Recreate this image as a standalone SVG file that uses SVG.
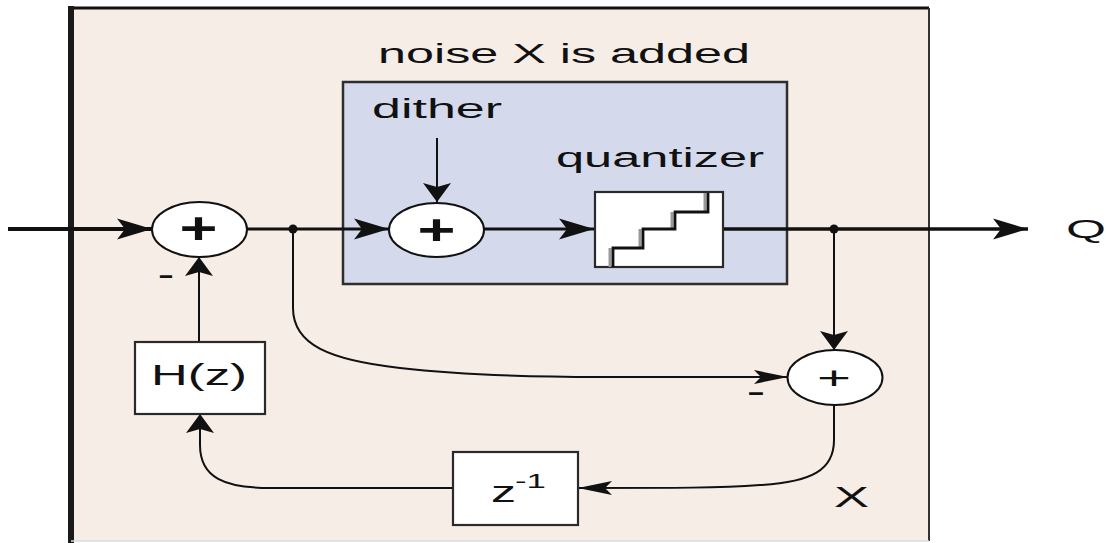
<svg xmlns="http://www.w3.org/2000/svg" width="1106" height="543" viewBox="0 0 1106 543">
<style>
  .t { font-family: "Liberation Sans", Arial, sans-serif; fill: #111; }
  .thick { stroke: #111; stroke-width: 3; fill: none; }
  .thin { stroke: #111; stroke-width: 2; fill: none; }
  .sum { fill: #fff; stroke: #111; stroke-width: 2; }
  .blk { fill: #fff; stroke: #2a2a2a; stroke-width: 2.2; }
</style>
<defs>
  <marker id="ah" viewBox="-38 -12 40 24" refX="0" refY="0" markerWidth="40" markerHeight="24" markerUnits="userSpaceOnUse" orient="auto">
    <path d="M0,0 L-35,-10.5 L-27,0 L-35,10.5 Z" fill="#111"/>
  </marker>
  <marker id="ahThin" viewBox="-36 -9 38 18" refX="0" refY="0" markerWidth="38" markerHeight="18" markerUnits="userSpaceOnUse" orient="auto">
    <path d="M0,0 L-34,-7 L-27,0 L-34,7 Z" fill="#111"/>
  </marker>
  <marker id="av" viewBox="-21 -15 23 30" refX="0" refY="0" markerWidth="23" markerHeight="30" markerUnits="userSpaceOnUse" orient="auto">
    <path d="M0,0 L-19,-14 L-15,0 L-19,14 Z" fill="#111"/>
  </marker>
</defs>

<g id="frame">
  <rect x="71" y="8" width="858" height="533" fill="#F6EDE7"/>
  <path d="M68,8 H929" stroke="#111" stroke-width="3"/>
  <path d="M71,6 V543" stroke="#1a1a1a" stroke-width="6"/>
  <path d="M929,8 V541" stroke="#333" stroke-width="2"/>
  <path d="M71,541 H929" stroke="#ddd" stroke-width="1.5"/>
</g>

<g id="noise-block">
  <rect x="343" y="82" width="444" height="202" fill="#D4DAEC" stroke="#2e2e2e" stroke-width="2.5"/>
  <text class="t" x="378" y="63" font-size="28" textLength="372" lengthAdjust="spacingAndGlyphs">noise X is added</text>
  <text class="t" x="372" y="118" font-size="27" textLength="130" lengthAdjust="spacingAndGlyphs">dither</text>
</g>

<g id="connectors">
  <path d="M8,229 H152" stroke="#111" stroke-width="4" fill="none" marker-end="url(#ah)"/>
  <path class="thick" d="M247,229 H389" marker-end="url(#ah)"/>
  <path class="thick" d="M484,229 H594" marker-end="url(#ah)"/>
  <path d="M723,229 H1028" stroke="#111" stroke-width="3.5" fill="none" marker-end="url(#ah)"/>
  <path class="thin" d="M437,138 V202" marker-end="url(#av)"/>
  <path class="thin" d="M834,229 V350" marker-end="url(#av)"/>
  <path class="thin" d="M199,342 V257" marker-end="url(#av)"/>
  <path class="thin" d="M293,229 V308 C293,345 330,360 400,368 C460,375 520,377 600,377 H788" marker-end="url(#ahThin)"/>
  <path class="thin" d="M834,404 V440 C834,470 812,482 760,485 C720,488 680,488 578,488" marker-end="url(#ahThin)"/>
  <path class="thin" d="M453,488 H270 C225,488 200,478 200,445 V414" marker-end="url(#av)"/>
  <circle cx="293" cy="229" r="4.5" fill="#111"/>
  <circle cx="834" cy="229" r="4.5" fill="#111"/>
</g>

<g id="sum1">
  <ellipse class="sum" cx="199.5" cy="229.5" rx="47.5" ry="27.5"/>
  <text class="t" x="198.5" y="244" font-size="44" font-weight="bold" text-anchor="middle" textLength="38" lengthAdjust="spacingAndGlyphs">+</text>
  <text class="t" x="158" y="283" font-size="24" font-weight="bold" textLength="16" lengthAdjust="spacingAndGlyphs">-</text>
</g>

<g id="sum2">
  <ellipse class="sum" cx="436.5" cy="230" rx="47.5" ry="27"/>
  <text class="t" x="436.5" y="244" font-size="42" font-weight="bold" text-anchor="middle" textLength="38" lengthAdjust="spacingAndGlyphs">+</text>
</g>

<g id="quantizer">
  <text class="t" x="556" y="167" font-size="27" textLength="208" lengthAdjust="spacingAndGlyphs">quantizer</text>
  <rect class="blk" x="595" y="192" width="128" height="75"/>
  <path d="M610,267 V248 M640,248 V229 M672,229 V212 M705,212 V193" fill="none" stroke="#999" stroke-width="3"/>
  <path d="M613,267 V248 H643 V229 H675 V212 H708 V193" fill="none" stroke="#111" stroke-width="2.8"/>
</g>

<g id="output-label">
  <text class="t" x="1066" y="238" font-size="25" textLength="40" lengthAdjust="spacingAndGlyphs">Q</text>
</g>

<g id="sum3">
  <ellipse class="sum" cx="835" cy="377.5" rx="47.5" ry="27.5"/>
  <text class="t" x="834" y="389" font-size="32" text-anchor="middle" textLength="34" lengthAdjust="spacingAndGlyphs">+</text>
  <text class="t" x="747" y="400" font-size="24" font-weight="bold" textLength="18" lengthAdjust="spacingAndGlyphs">-</text>
</g>

<g id="hz">
  <rect class="blk" x="135" y="342" width="130" height="72"/>
  <text class="t" x="151" y="385" font-size="30" textLength="96" lengthAdjust="spacingAndGlyphs">H(z)</text>
</g>

<g id="delay">
  <rect class="blk" x="453" y="452" width="125" height="73"/>
  <text class="t" font-size="30"><tspan x="491" y="502" textLength="25" lengthAdjust="spacingAndGlyphs">z</tspan><tspan x="515" y="488" font-size="20" textLength="31" lengthAdjust="spacingAndGlyphs">-1</tspan></text>
</g>

<g id="x-label">
  <text class="t" x="834" y="507" font-size="30" textLength="35" lengthAdjust="spacingAndGlyphs">X</text>
</g>
</svg>
